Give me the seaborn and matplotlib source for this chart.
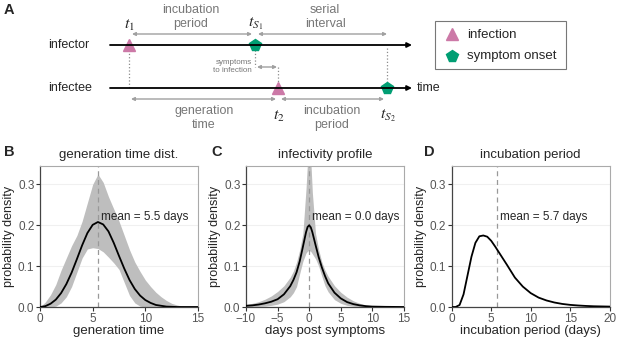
import numpy as np
import pandas as pd
import matplotlib
matplotlib.use('Agg')
import matplotlib.pyplot as plt
import seaborn as sns

# ---- data ----
# B: generation time distribution
gen_x = [0, 0.5, 1, 1.5, 2, 2.5, 3, 3.5, 4, 4.5, 5, 5.5, 6, 6.5, 7, 7.5, 8, 8.5, 9, 9.5,
         10, 10.5, 11, 11.5, 12, 12.5, 13, 13.5, 14, 14.5, 15]
gen_mean = [0, .002, .008, .018, .034, .056, .084, .117, .151, .181, .201, .208, .202, .185, .157, .125,
            .094, .066, .044, .028, .017, .010, .005, .003, .001, .0005, 0, 0, 0, 0, 0]
gen_hi = [0, .012, .03, .055, .09, .12, .15, .175, .21, .255, .30, .325, .305, .27, .24, .21,
          .175, .14, .11, .087, .066, .05, .036, .025, .016, .009, .005, .002, .001, .0005, 0]
gen_lo = [0, 0, 0, .002, .01, .025, .05, .085, .12, .142, .145, .143, .135, .122, .108, .092,
          .06, .028, .01, .002, 0, 0, 0, 0, 0, 0, 0, 0, 0, 0, 0]

# C: infectivity profile
inf_x = [-10, -9, -8, -7, -6, -5, -4, -3, -2.5, -2, -1.5, -1, -0.5, -0.25, 0, 0.25, 0.5,
         1, 1.5, 2, 2.5, 3, 4, 5, 6, 7, 8, 9, 10, 12, 15]
inf_mean = [.003, .004, .006, .009, .013, .019, .031, .051, .066, .085, .112, .147, .183, .196, .2,
            .195, .183, .152, .122, .097, .076, .058, .035, .021, .012, .007, .004, .002, .001, .0004, 0]
inf_hi = [.006, .009, .013, .019, .027, .038, .052, .073, .088, .11, .14, .18, .29, .36, .42,
          .36, .28, .18, .14, .11, .09, .075, .052, .036, .024, .015, .009, .005, .003, .001, 0]
inf_lo = [.0005, .001, .0015, .002, .004, .007, .013, .025, .035, .05, .082, .112, .132, .137, .138,
          .136, .13, .118, .1, .075, .052, .037, .018, .009, .004, .002, .001, .0005, .0002, 0, 0]

# D: incubation period
inc_x = [0, 0.5, 1, 1.5, 2, 2.5, 3, 3.5, 4, 4.5, 5, 5.5, 6, 7, 8, 9, 10, 11, 12, 13, 14, 15,
         16, 17, 18, 20]
inc_mean = [0, 0, .005, .031, .077, .123, .157, .173, .175, .172, .162, .148, .133, .103, .072,
            .05, .034, .023, .016, .011, .0075, .0052, .0037, .0026, .0018, .001]

means = [5.5, 0.0, 5.7]
titles = ['generation time dist.', 'infectivity profile', 'incubation period']
xlabels = ['generation time', 'days post symptoms', 'incubation period (days)']
xlims = [(0, 15), (-10, 15), (0, 20)]
xticks = [[0, 5, 10, 15], [-10, -5, 0, 5, 10, 15], [0, 5, 10, 15, 20]]
panel_letters = ['B', 'C', 'D']

# schematic (panel A), positions in diagram units
ev_x = {'t1': 129, 'ts1': 255, 't2': 278, 'ts2': 387}
row_y = {'infector': 45, 'infectee': 88}

sns.set_theme(style='white')
plt.rcParams['font.family'] = ['Liberation Sans', 'DejaVu Sans']
plt.rcParams['mathtext.fontset'] = 'stix'

PINK = '#CC79A7'
GREEN = '#009E73'
GREY = '#8c8c8c'
TXT = '#777777'

fig = plt.figure(figsize=(6.17, 3.39), dpi=100)

# ---------------- panel A ----------------
axa = fig.add_axes([0, 0, 1, 1])
axa.set_xlim(0, 617)
axa.set_ylim(339, 0)
axa.axis('off')

axa.text(4, 10, 'A', fontsize=10.5, fontweight='bold', va='center')

for name, y in row_y.items():
    axa.annotate('', xy=(412, y), xytext=(110, y),
                 arrowprops=dict(arrowstyle='-|>', color='black', lw=1.3, mutation_scale=7,
                                 shrinkA=0, shrinkB=0))
    axa.text(48, y, name, fontsize=9, va='center')
axa.text(417, row_y['infectee'], 'time', fontsize=9, va='center')

# dotted links
axa.plot([ev_x['t1'], ev_x['t1']], [50, 88], ls=':', color=GREY, lw=0.9)
axa.plot([ev_x['ts1'], ev_x['ts1']], [50, 67], ls=':', color=GREY, lw=0.9)
axa.plot([ev_x['t2'], ev_x['t2']], [67, 83], ls=':', color=GREY, lw=0.9)
axa.plot([ev_x['ts2'], ev_x['ts2']], [48, 84], ls=':', color=GREY, lw=0.9)


def darrow(x0, x1, y):
    axa.annotate('', xy=(x1, y), xytext=(x0, y),
                 arrowprops=dict(arrowstyle='<|-|>', color='#a0a0a0', lw=1.0, mutation_scale=5,
                                 shrinkA=0, shrinkB=0))


darrow(ev_x['t1'] + 3, ev_x['ts1'] - 3, 34)
darrow(ev_x['ts1'] + 3, ev_x['ts2'], 34)
darrow(ev_x['ts1'] + 2, ev_x['t2'] - 1, 67)
darrow(ev_x['t1'] + 2, ev_x['t2'] - 2, 99)
darrow(ev_x['t2'] + 3, ev_x['ts2'] - 3, 99)

axa.text(191, 17, 'incubation\nperiod', fontsize=9, color=TXT, ha='center', va='center', linespacing=1.25)
axa.text(325, 17, 'serial\ninterval', fontsize=9, color=TXT, ha='center', va='center', linespacing=1.25)
axa.text(204, 118, 'generation\ntime', fontsize=9, color=TXT, ha='center', va='center', linespacing=1.25)
axa.text(332, 118, 'incubation\nperiod', fontsize=9, color=TXT, ha='center', va='center', linespacing=1.25)
axa.text(252, 67, 'symptoms\nto infection', fontsize=5.8, color=TXT, ha='right', va='center', linespacing=1.2)

axa.text(ev_x['t1'], 25, r'$t_1$', fontsize=11.5, ha='center', va='center')
axa.text(ev_x['ts1'] + 1, 24, r'$t_{S_1}$', fontsize=11.5, ha='center', va='center')
axa.text(ev_x['t2'] + 1, 116, r'$t_2$', fontsize=11.5, ha='center', va='center')
axa.text(ev_x['ts2'] + 1, 116, r'$t_{S_2}$', fontsize=11.5, ha='center', va='center')

axa.plot(ev_x['t1'], row_y['infector'], marker='^', ms=8.5, color=PINK, ls='none')
axa.plot(ev_x['ts1'], row_y['infector'], marker='p', ms=8.5, color=GREEN, ls='none')
axa.plot(ev_x['t2'], row_y['infectee'], marker='^', ms=8.5, color=PINK, ls='none')
axa.plot(ev_x['ts2'], row_y['infectee'], marker='p', ms=8.5, color=GREEN, ls='none')

# legend box
axa.add_patch(plt.Rectangle((435, 21), 131, 48, fill=False, edgecolor='#777', lw=0.8))
axa.plot(452, 34, marker='^', ms=8.5, color=PINK, ls='none')
axa.plot(452, 56, marker='p', ms=8.5, color=GREEN, ls='none')
axa.text(467, 35, 'infection', fontsize=9.5, va='center')
axa.text(467, 56, 'symptom onset', fontsize=9.5, va='center')

# ---------------- panels B-D ----------------
lefts = [40 / 617, 246 / 617, 451.7 / 617]
curves = [
    (gen_x, gen_mean, gen_lo, gen_hi),
    (inf_x, inf_mean, inf_lo, inf_hi),
    (inc_x, inc_mean, None, None),
]
label_x = [4, 211, 424]

for i in range(3):
    ax = fig.add_axes([lefts[i], 32 / 339, 158 / 617, 141 / 339])
    x, m, lo, hi = curves[i]
    if lo is not None:
        ax.fill_between(x, lo, hi, color='#bebebe', lw=0, zorder=1)
    ax.axvline(means[i], color='#999999', ls=(0, (4, 3)), lw=0.9, zorder=2)
    sns.lineplot(x=x, y=m, ax=ax, color='black', lw=1.3, zorder=3)
    ax.set_xlim(*xlims[i])
    ax.set_ylim(0, 0.345)
    ax.set_xticks(xticks[i])
    ax.set_yticks([0, 0.1, 0.2, 0.3])
    ax.set_yticklabels(['0.0', '0.1', '0.2', '0.3'])
    ax.set_xticklabels(['\u2212' + str(-t) if t < 0 else str(t) for t in xticks[i]])
    ax.yaxis.grid(True, color='#f0f0f0', lw=0.8)
    ax.set_axisbelow(True)
    ax.tick_params(axis='both', labelsize=8.5, labelcolor='#555555', length=3, width=0.8,
                   color='#333333', pad=1, bottom=True, left=True)
    for s in ['top', 'right']:
        ax.spines[s].set_color('#aaaaaa')
        ax.spines[s].set_linewidth(0.8)
    for s in ['left', 'bottom']:
        ax.spines[s].set_color('#444444')
        ax.spines[s].set_linewidth(0.9)
    ax.set_xlabel(xlabels[i], fontsize=9.5, labelpad=0)
    ax.set_ylabel('probability density', fontsize=9, labelpad=2)
    ax.set_title(titles[i], fontsize=9.5, pad=6)
    xr = xlims[i][1] - xlims[i][0]
    ax.text(means[i] + 0.02 * xr, 0.219, 'mean = %.1f days' % means[i], fontsize=8.5, va='center')
    fig.text(label_x[i] / 617, 1 - 152 / 339, panel_letters[i], fontsize=10.5, fontweight='bold',
             va='center')

fig.savefig('out.png', dpi=100)
